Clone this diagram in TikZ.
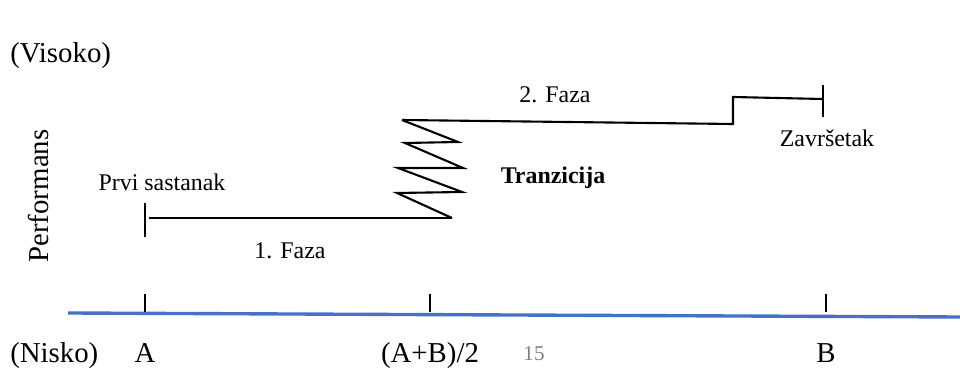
\documentclass[tikz,border=0pt]{standalone}
\usepackage{fontspec}
\setmainfont{Liberation Serif}
\definecolor{axisblue}{HTML}{4472C4}
\begin{document}
\begin{tikzpicture}[x=0.025cm, y=-0.025cm,
  lbl/.style={inner sep=0pt, font=\fontsize{17}{19}\selectfont},
  biglbl/.style={inner sep=0pt, font=\fontsize{20.5}{23}\selectfont},
  phase/.style={line width=1.5pt, black},
  tick/.style={line width=1.1pt, black}]
\useasboundingbox (0,0) rectangle (960,372);
% axis
\coordinate (ax0) at (68,313); \coordinate (ax1) at (960,317);
\draw[axisblue, line width=2.4pt] (ax0) -- (ax1);
\foreach \n/\x in {a/145,m/430,b/826} {
  \coordinate (t\n0) at (\x,294); \coordinate (t\n1) at (\x,312);
  \draw[tick] (t\n0) -- (t\n1);
}
% axis labels
\node[biglbl, anchor=base west] (nisko) at (10,363) {(Nisko)};
\node[biglbl, anchor=base] (lA) at (145,363) {A};
\node[biglbl, anchor=base] (lAB) at (430,363) {(A+B)/2};
\node[inner sep=0pt, anchor=base, text=gray, font=\fontsize{15}{17}\selectfont] (pg) at (534,361) {15};
\node[biglbl, anchor=base] (lB) at (826,363) {B};
\node[biglbl, anchor=base west] (visoko) at (10,63) {(Visoko)};
\node[biglbl, rotate=90] (perf) at (38,196) {Performans};
% phase 1
\coordinate (s0) at (145,203); \coordinate (s1) at (145,237);
\draw[tick, line width=1.4pt] (s0) -- (s1);
\coordinate (p1a) at (149,218); \coordinate (p1b) at (452,218);
\draw[phase] (p1a) -- (p1b);
% transition zigzag
\coordinate (z1) at (397,193); \coordinate (z2) at (462,192);
\coordinate (z3) at (398,168); \coordinate (z4) at (463,168);
\coordinate (z5) at (405,143); \coordinate (z6) at (458,142);
\coordinate (z7) at (402,120);
\draw[phase, line join=miter] (p1b) -- (z1) -- (z2) -- (z3) -- (z4) -- (z5) -- (z6) -- (z7);
% phase 2
\coordinate (p2a) at (733,124); \coordinate (p2b) at (733,97); \coordinate (p2c) at (823,99);
\draw[phase] (z7) -- (p2a) -- (p2b) -- (p2c);
\coordinate (e0) at (823,85); \coordinate (e1) at (823,117);
\draw[tick, line width=1.4pt] (e0) -- (e1);
% labels
\node[lbl, anchor=base] (prvi) at (162,191) {Prvi sastanak};
\node[lbl, anchor=base] (faza1) at (290,259) {1. Faza};
\node[lbl, anchor=base] (faza2) at (555,103) {2. Faza};
\node[lbl, anchor=base, font=\fontsize{17}{19}\selectfont\bfseries] (tranz) at (553,184) {Tranzicija};
\node[lbl, anchor=base] (zavr) at (827,147) {Završetak};
\end{tikzpicture}
\end{document}
